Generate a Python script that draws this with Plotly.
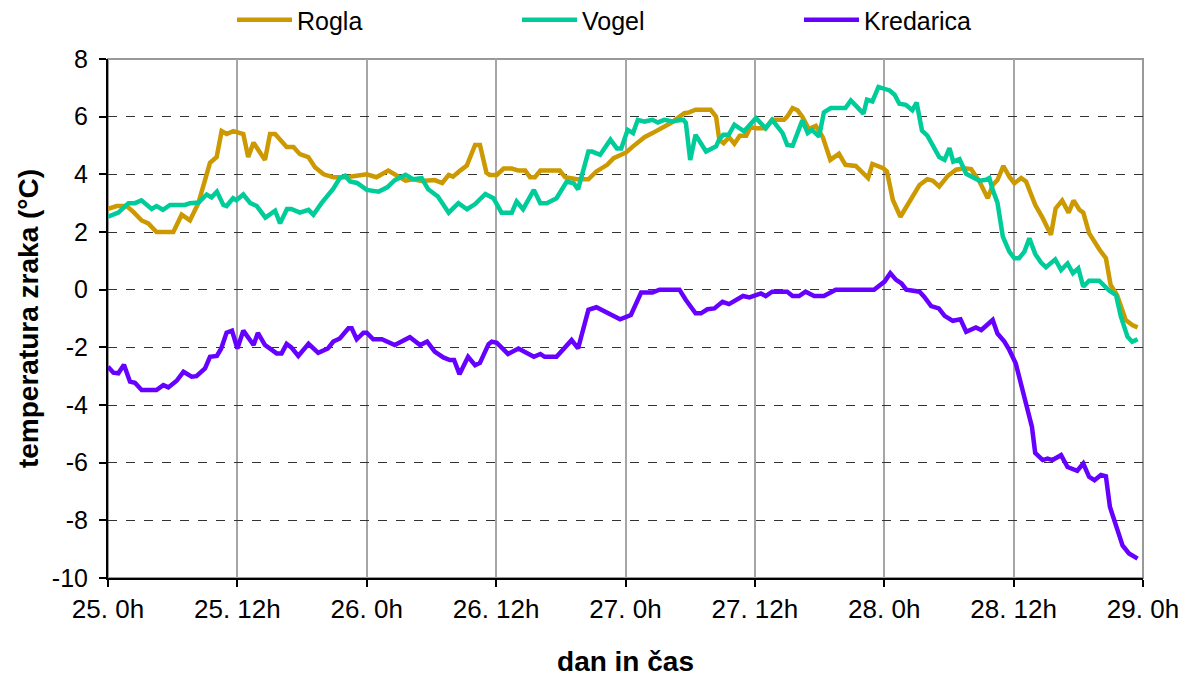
import plotly.graph_objects as go

# hours after 25. 0h
rogla_h = [0, 0.8, 1.73, 2.35, 3.12, 3.74, 4.5, 6.06, 6.83, 7.6, 8.38, 9.46, 10.08, 10.54, 11.0, 11.63,
           12.55, 13.0, 13.5, 14.56, 15.03, 15.5, 16.57, 17.2, 17.8, 18.58, 19.2, 20.0, 20.9, 22.1, 24.0,
           24.9, 26.0, 26.8, 27.6, 28.3, 29.1, 30.3, 31.0, 31.6, 32.0, 32.66, 33.28, 34.05, 34.5, 35.1,
           35.4, 36.06, 36.7, 37.45, 38.07, 38.7, 39.15, 39.6, 40.1, 41.9, 42.4, 43.5, 44.56, 45.3, 46.3,
           46.9, 47.5, 48.06, 48.7, 49.76, 50.5, 51.46, 52.2, 53.46, 53.9, 54.5, 55.9, 56.4, 56.7, 57.1,
           57.6, 58.1, 58.6, 59.2, 59.6, 60.1, 61.0, 61.6, 62.7, 63.0, 63.5, 63.96, 64.4, 65.0, 65.65,
           66.3, 67.0, 67.8, 68.4, 69.36, 69.8, 70.5, 70.9, 71.9, 72.25, 72.8, 73.5, 74.35, 75.27, 76.0,
           76.5, 77.1, 77.9, 78.67, 79.4, 80.06, 80.83, 81.6, 82.06, 82.5, 83.05, 83.6, 84.07, 84.7, 85.15,
           86.0, 86.7, 87.46, 87.9, 88.5, 89.1, 89.56, 90.1, 90.46, 91.0, 91.94, 92.56, 93.0, 93.6, 94.4,
           95.0, 95.5]
rogla_t = [2.8, 2.9, 2.9, 2.7, 2.4, 2.3, 2.0, 2.0, 2.6, 2.4, 3.0, 4.4, 4.6, 5.5, 5.4, 5.5,
           5.4, 4.6, 5.1, 4.5, 5.4, 5.4, 4.95, 4.95, 4.7, 4.6, 4.25, 4.0, 3.9, 3.9, 4.0,
           3.9, 4.13, 3.95, 3.78, 3.83, 3.77, 3.8, 3.7, 3.98, 3.92, 4.13, 4.3, 5.02, 5.02, 4.06,
           3.98, 3.98, 4.2, 4.2, 4.13, 4.13, 3.9, 3.9, 4.13, 4.13, 3.9, 3.83, 3.83, 4.1, 4.33,
           4.56, 4.67, 4.76, 4.97, 5.29, 5.43, 5.64, 5.78, 6.12, 6.15, 6.24, 6.24, 6.0, 5.2, 5.08,
           5.29, 5.06, 5.34, 5.34, 5.64, 5.6, 5.6, 5.89, 5.89, 6.0, 6.3, 6.22, 6.0, 5.57, 5.68,
           5.29, 4.5, 4.71, 4.33, 4.29, 4.13, 3.87, 4.36, 4.21, 4.1, 3.11, 2.53, 3.06, 3.63, 3.83,
           3.78, 3.58, 3.95, 4.16, 4.21, 4.18, 3.75, 3.17, 3.63, 3.8, 4.29, 3.92, 3.69, 3.87, 3.75,
           2.94, 2.48, 1.9, 2.82, 3.09, 2.67, 3.09, 2.77, 2.67, 1.96, 1.4, 1.09, 0.16, -0.19, -1.05,
           -1.23, -1.31]

vogel_h = [0, 0.96, 1.9, 2.5, 3.1, 4.05, 4.5, 5.1, 5.75, 7.14, 7.6, 8.4, 9.15, 9.6, 10.1, 10.7, 11.0,
           11.6, 11.9, 12.55, 13.2, 13.8, 14.6, 15.5, 15.96, 16.6, 17.0, 17.8, 18.6, 19.05, 19.8, 20.9,
           21.5, 22.0, 22.45, 23.1, 24.0, 25.1, 25.9, 26.6, 27.6, 28.3, 29.1, 29.7, 30.6, 31.6, 32.5,
           33.3, 34.05, 35.0, 35.75, 36.5, 37.45, 37.9, 38.5, 39.5, 40.1, 40.7, 41.6, 42.55, 43.2, 43.6,
           44.56, 44.9, 45.65, 46.6, 47.2, 47.6, 48.2, 48.7, 49.14, 49.76, 50.5, 51.0, 51.6, 52.4,
           52.85, 53.37, 53.6, 54.0, 54.5, 55.47, 56.4, 56.7, 57.07, 57.57, 58.1, 59.0, 60.1, 61.0,
           61.6, 62.57, 63.0, 63.5, 64.4, 64.9, 65.3, 65.96, 66.4, 67.04, 68.4, 68.9, 69.5, 70.07,
           70.4, 70.9, 71.46, 72.5, 72.96, 73.4, 74.0, 74.6, 75.0, 75.5, 76.0, 76.66, 77.1, 77.6,
           78.05, 78.4, 78.98, 79.6, 80.4, 80.83, 81.44, 81.75, 82.06, 82.5, 83.0, 83.6, 84.07, 84.5,
           85.0, 85.46, 86.0, 86.54, 87.0, 87.86, 88.4, 89.0, 89.5, 90.0, 90.46, 91.0, 91.94, 92.86,
           93.5, 93.95, 94.56, 95.0, 95.5]
vogel_t = [2.53, 2.67, 3.0, 3.0, 3.1, 2.8, 2.9, 2.77, 2.94, 2.94, 3.0, 3.02, 3.3, 3.2, 3.4, 2.94, 2.9,
           3.17, 3.1, 3.3, 3.0, 2.9, 2.5, 2.74, 2.3, 2.8, 2.8, 2.67, 2.77, 2.6, 3.0, 3.5,
           3.87, 3.95, 3.75, 3.7, 3.46, 3.4, 3.55, 3.8, 3.98, 3.83, 3.87, 3.48, 3.23, 2.67, 3.0,
           2.79, 2.97, 3.32, 3.17, 2.67, 2.67, 3.06, 2.79, 3.46, 3.0, 3.0, 3.17, 3.75, 3.69, 3.48,
           4.79, 4.79, 4.68, 5.2, 4.9, 4.9, 5.54, 5.43, 5.89, 5.83, 5.89, 5.8, 5.89, 5.83,
           5.87, 5.89, 5.78, 4.5, 5.37, 4.79, 4.97, 5.22, 5.37, 5.37, 5.72, 5.49, 5.95, 5.6,
           5.89, 5.43, 5.02, 4.99, 5.87, 5.43, 5.54, 5.31, 6.15, 6.3, 6.3, 6.56, 6.33, 6.1,
           6.59, 6.53, 7.03, 6.91, 6.76, 6.45, 6.41, 6.22, 6.49, 5.52, 5.34, 4.91, 4.6, 4.5,
           4.91, 4.44, 4.53, 4.02, 3.87, 3.78, 3.81, 3.87, 3.46, 3.02, 1.84, 1.32, 1.09, 1.09,
           1.32, 1.78, 1.24, 0.94, 0.78, 1.05, 0.68, 0.91, 0.57, 0.74, 0.1, 0.31, 0.31, -0.03,
           -0.19, -0.94, -1.63, -1.81, -1.72]

kredarica_h = [0, 0.5, 0.96, 1.48, 2.04, 2.5, 3.12, 4.5, 5.13, 5.6, 6.37, 7.0, 7.76, 8.2, 9.0, 9.46,
               10.1, 10.5, 11.0, 11.5, 12.0, 12.55, 13.5, 13.9, 14.56, 15.65, 16.1, 16.57, 17.0, 17.65,
               18.6, 19.5, 20.4, 20.9, 21.5, 22.3, 22.6, 23.07, 23.7, 24.0, 24.6, 25.4, 26.6, 28.0,
               28.95, 29.6, 30.3, 31.1, 31.7, 32.1, 32.6, 33.4, 34.05, 34.5, 35.3, 35.6, 36.06, 37.1,
               38.07, 39.5, 40.1, 40.5, 41.6, 43.0, 43.6, 44.56, 45.3, 46.6, 47.5, 48.5, 49.45, 50.5,
               51.15, 53.0, 53.6, 54.5, 55.0, 55.6, 56.24, 57.0, 57.6, 58.9, 59.5, 60.56, 61.0, 61.6,
               63.0, 63.5, 64.1, 64.7, 65.5, 66.4, 67.5, 71.05, 72.03, 72.56, 73.1, 73.6, 74.04, 75.27,
               75.7, 76.35, 77.06, 77.6, 78.36, 79.07, 79.6, 80.5, 81.0, 82.06, 82.5, 83.14, 83.6, 84.2,
               84.7, 85.3, 85.7, 86.0, 86.7, 87.15, 87.6, 88.4, 89.0, 89.9, 90.46, 91.0, 91.5, 92.1,
               92.56, 92.93, 93.5, 94.1, 94.7, 95.5]
kredarica_t = [-2.67, -2.88, -2.9, -2.6, -3.19, -3.23, -3.48, -3.48, -3.31, -3.39, -3.16, -2.85, -3.02,
               -3.0, -2.73, -2.33, -2.3, -2.04, -1.49, -1.42, -2.04, -1.42, -1.92, -1.5, -1.92, -2.21,
               -2.21, -1.88, -2.0, -2.3, -1.88, -2.19, -2.04, -1.8, -1.69, -1.34, -1.34, -1.72, -1.49,
               -1.49, -1.72, -1.72, -1.92, -1.65, -1.92, -1.8, -2.15, -2.35, -2.44, -2.44, -2.93, -2.33,
               -2.62, -2.54, -1.89, -1.8, -1.84, -2.23, -2.04, -2.33, -2.23, -2.33, -2.33, -1.75, -2.04,
               -0.7, -0.61, -0.88, -1.03, -0.88, -0.1, -0.1, 0.0, 0.0, -0.36, -0.82, -0.82, -0.68,
               -0.65, -0.42, -0.5, -0.22, -0.27, -0.13, -0.22, -0.07, -0.07, -0.22, -0.22, -0.07,
               -0.22, -0.22, 0.0, 0.0, 0.28, 0.57, 0.34, 0.22, 0.0, -0.07, -0.24, -0.57, -0.65, -0.91,
               -1.08, -1.03, -1.46, -1.31, -1.4, -1.05, -1.52, -1.8, -2.09, -2.56, -3.25, -4.18, -4.76,
               -5.66, -5.91, -5.86, -5.91, -5.74, -6.15, -6.28, -6.03, -6.49, -6.61, -6.43, -6.47,
               -7.53, -8.23, -8.87, -9.15, -9.33]

x_tickvals = [0, 12, 24, 36, 48, 60, 72, 84, 96]
x_ticktext = ["25. 0h", "25. 12h", "26. 0h", "26. 12h", "27. 0h", "27. 12h", "28. 0h", "28. 12h", "29. 0h"]
y_tickvals = [-10, -8, -6, -4, -2, 0, 2, 4, 6, 8]
y_ticktext = ["-10", "-8", "-6", "-4", "-2", "0", "2", "4", "6", "8"]

FONT = "Liberation Sans, Arial, sans-serif"
W, H = 1194, 681
L, T = 100, 51
PW, PH = 1035, 519
R = W - L - PW
B = H - T - PH

series = [("Rogla", rogla_h, rogla_t, "#CC9900", "legend", 224),
          ("Vogel", vogel_h, vogel_t, "#00CC99", "legend2", 509),
          ("Kredarica", kredarica_h, kredarica_t, "#6600FF", "legend3", 791)]

fig = go.Figure()
for name, xs, ys, col, leg, _ in series:
    fig.add_trace(go.Scatter(x=xs, y=ys, mode="lines", name=name, legend=leg,
                             showlegend=True, line=dict(color=col, width=4.5)))

fig.add_shape(type="rect", xref="paper", yref="paper", x0=0, y0=0, x1=1, y1=1,
              line=dict(color="#999999", width=2), layer="below")

legends = {}
for name, xs, ys, col, leg, px in series:
    legends[leg] = dict(x=(px - L) / PW, xanchor="left", y=1 + (T - 12) / PH, yanchor="middle",
                        orientation="h", itemwidth=55, font=dict(size=25, family=FONT),
                        bgcolor="rgba(0,0,0,0)", borderwidth=0)

fig.update_layout(
    width=W, height=H, showlegend=True,
    margin=dict(l=L, r=R, t=T, b=B, autoexpand=False),
    paper_bgcolor="white", plot_bgcolor="white",
    font=dict(family=FONT, size=24, color="black"),
    **legends,
    xaxis=dict(range=[0, 96], tickvals=x_tickvals, ticktext=x_ticktext,
               showgrid=True, gridcolor="#A6A6A6", gridwidth=1.5,
               showline=True, linecolor="black", linewidth=2,
               ticks="outside", ticklen=7, tickcolor="black", tickwidth=1.5,
               zeroline=False, tickfont=dict(size=26),
               title=dict(text="<b>dan in čas</b>", font=dict(size=28), standoff=28)),
    yaxis=dict(range=[-10, 8], tickvals=y_tickvals, ticktext=y_ticktext,
               showgrid=True, gridcolor="#333333", gridwidth=1, griddash="dash",
               showline=True, linecolor="black", linewidth=2,
               ticks="outside", ticklen=7, tickcolor="black", tickwidth=1.5,
               zeroline=False, tickfont=dict(size=25), ticklabelstandoff=6,
               title=dict(text="<b>temperatura zraka (°C)</b>", font=dict(size=28), standoff=5)),
)

fig.write_html("out.html")
